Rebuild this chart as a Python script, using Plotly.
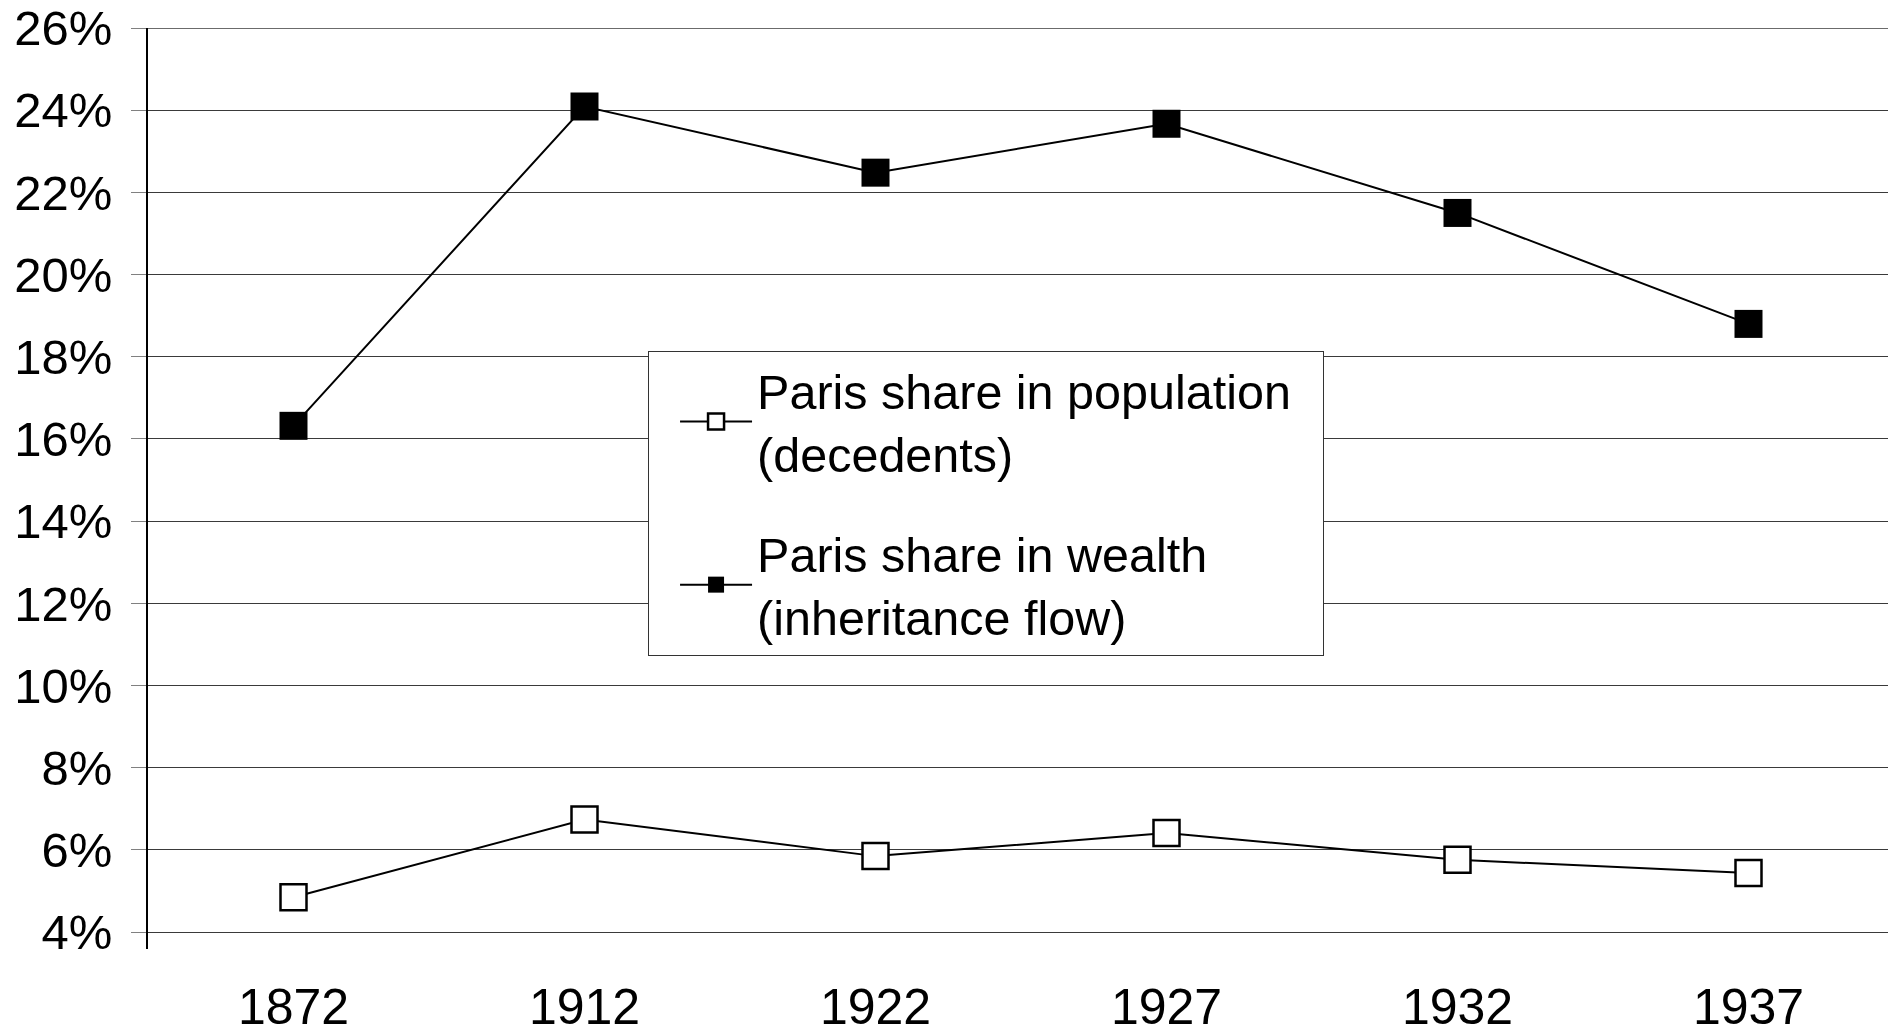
import plotly.graph_objects as go

years = ["1872", "1912", "1922", "1927", "1932", "1937"]
population_share = [4.85, 6.74, 5.85, 6.41, 5.76, 5.44]
wealth_share = [16.32, 24.09, 22.48, 23.67, 21.50, 18.80]
y_ticks = [4, 6, 8, 10, 12, 14, 16, 18, 20, 22, 24, 26]
y_tick_labels = [f"{v}%" for v in y_ticks]

FONT = "Liberation Sans, Arial, sans-serif"

fig = go.Figure()
fig.add_trace(go.Scatter(
    x=years, y=population_share, mode="lines+markers",
    name="Paris share in population\u00a0\u00a0<br>(decedents)",
    legendgroup="pop",
    line=dict(color="black", width=2),
    marker=dict(symbol="square", size=26, color="white",
                line=dict(color="black", width=2.5)),
))
fig.add_trace(go.Scatter(
    x=years, y=wealth_share, mode="lines+markers",
    name="Paris share in wealth<br>(inheritance flow)",
    legendgroup="wealth",
    line=dict(color="black", width=2),
    marker=dict(symbol="square", size=28, color="black",
                line=dict(color="black", width=0)),
))

# page body has an 8px margin: figure sits at (8, 8)
fig.update_layout(
    width=1886, height=1024,
    margin=dict(l=140, r=0, t=20, b=83),
    paper_bgcolor="white", plot_bgcolor="white",
    font=dict(family=FONT, color="black"),
    showlegend=True,
    legend=dict(
        x=0.2864, y=0.6493, xanchor="left", yanchor="top",
        bgcolor="white", bordercolor="#333333", borderwidth=1,
        font=dict(size=48.5, family=FONT, color="black"),
        tracegroupgap=34, itemwidth=72, indentation=26,
    ),
    xaxis=dict(
        type="category", range=[-0.5, 5.5],
        showgrid=False, showline=False, ticks="",
        tickfont=dict(size=50, family=FONT),
        ticklabelstandoff=24, automargin=False,
    ),
    yaxis=dict(
        range=[3.59, 26], tickvals=y_ticks, ticktext=y_tick_labels,
        showgrid=True, gridcolor="#3a3a3a", gridwidth=1,
        showline=True, linecolor="black", linewidth=1.5,
        ticks="outside", ticklen=15, tickcolor="#808080", tickwidth=1,
        tickfont=dict(size=49, family=FONT),
        ticklabelstandoff=9, automargin=False,
        ticklabeloverflow="allow",
        zeroline=False,
    ),
    shapes=[
        dict(type="line", xref="paper", yref="paper",
             x0=1, x1=1, y0=0, y1=1,
             line=dict(color="#808080", width=2)),
        dict(type="line", xref="paper", yref="y",
             x0=0, x1=1, y0=y_ticks[-1], y1=y_ticks[-1],
             line=dict(color="#3a3a3a", width=1.5)),
    ],
)

fig.write_html("out.html")
